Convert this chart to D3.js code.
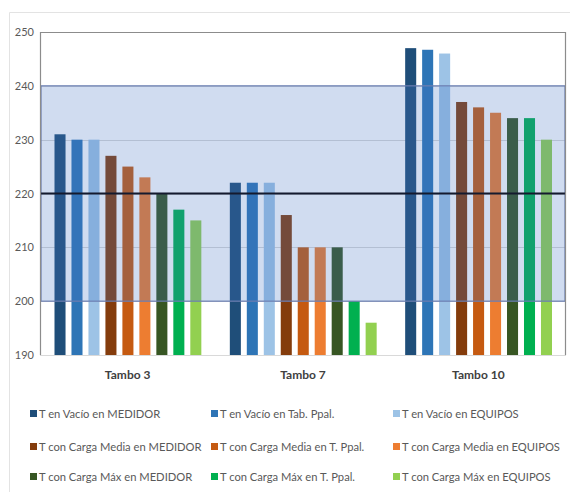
<!DOCTYPE html>
<html>
<head>
<meta charset="utf-8">
<script src="https://cdn.jsdelivr.net/npm/d3@7"></script>
<style>
  html, body { margin: 0; padding: 0; background: #fff; }
  svg { display: block; font-family: "Lato", "Open Sans", sans-serif; }
</style>
</head>
<body>
<svg id="chart" width="570" height="492"></svg>
<script>
// Voltage readings per site (Tambo) and measuring condition
const categories = ["Tambo 3", "Tambo 7", "Tambo 10"];
const seriesNames = [
  "T en Vacío en MEDIDOR",
  "T en Vacío en Tab. Ppal.",
  "T en Vacío en EQUIPOS",
  "T con Carga Media en MEDIDOR",
  "T con Carga Media en T. Ppal.",
  "T con Carga Media en EQUIPOS",
  "T con Carga Máx en MEDIDOR",
  "T con Carga Máx en T. Ppal.",
  "T con Carga Máx en EQUIPOS"
];
const vacioMedidor    = [231, 222, 247];
const vacioTabPpal    = [230, 222, 246.7];
const vacioEquipos    = [230, 222, 246];
const mediaMedidor    = [227, 216, 237];
const mediaTPpal      = [225, 210, 236];
const mediaEquipos    = [223, 210, 235];
const maxMedidor      = [220, 210, 234];
const maxTPpal        = [217, 200, 234];
const maxEquipos      = [215, 196, 230];
const seriesColors = ["#1f4e79", "#2e75b6", "#9dc3e6", "#843c0c", "#c55a11", "#ed7d31", "#375623", "#00b050", "#92d050"];
const yTicks = [190, 200, 210, 220, 230, 240, 250];
const bandLow = 200, bandHigh = 240, nominal = 220;

const seriesValues = [vacioMedidor, vacioTabPpal, vacioEquipos, mediaMedidor, mediaTPpal,
                      mediaEquipos, maxMedidor, maxTPpal, maxEquipos];

const svg = d3.select("#chart");
const plotLeft = 40, plotRight = 566, plotTop = 32, plotBottom = 355;

// outer frame
svg.append("path").attr("d", "M9.5,492 V12.5 H570").attr("fill", "none")
  .attr("stroke", "#e3e3e3").attr("stroke-width", 1);

const x0 = d3.scaleBand().domain(categories).range([plotLeft, plotRight]).padding(0);
const x1 = d3.scaleBand().domain(d3.range(seriesNames.length))
  .range([14.5, x0.bandwidth() - 14]).paddingInner(0.35).paddingOuter(0);
const y = d3.scaleLinear().domain([190, 250]).range([plotBottom, plotTop]);

// gridlines
svg.append("g").selectAll("line").data(yTicks).join("line")
  .attr("x1", plotLeft).attr("x2", plotRight)
  .attr("y1", d => Math.round(y(d)) + 0.5).attr("y2", d => Math.round(y(d)) + 0.5)
  .attr("stroke", "#d9d9d9").attr("stroke-width", 1);

// bars
const groups = svg.append("g").selectAll("g").data(categories).join("g")
  .attr("transform", c => `translate(${x0(c)},0)`);
groups.selectAll("rect")
  .data((c, ci) => seriesValues.map((vals, si) => ({ si, v: vals[ci] })))
  .join("rect")
  .attr("x", d => x1(d.si))
  .attr("width", x1.bandwidth())
  .attr("y", d => y(d.v))
  .attr("height", d => y(190) - y(d.v))
  .attr("fill", d => seriesColors[d.si]);

// tolerance band drawn over the bars
svg.append("rect")
  .attr("x", plotLeft + 1).attr("width", plotRight - plotLeft - 2)
  .attr("y", y(bandHigh)).attr("height", y(bandLow) - y(bandHigh))
  .attr("fill", "rgba(68,114,196,0.25)")
  .attr("stroke", "#6c7fb2").attr("stroke-width", 1.2);

// nominal voltage line
svg.append("line")
  .attr("x1", plotLeft).attr("x2", plotRight)
  .attr("y1", y(nominal)).attr("y2", y(nominal))
  .attr("stroke", "#141a2e").attr("stroke-width", 2);

// plot frame
svg.append("path")
  .attr("d", `M${plotLeft + 0.5},${plotBottom} V${plotTop + 0.5} H${plotRight - 0.5} V${plotBottom}`)
  .attr("fill", "none").attr("stroke", "#8c8c8c").attr("stroke-width", 1.2);

// y axis labels
const yAxis = svg.append("g").attr("transform", `translate(${plotLeft - 6},0)`)
  .call(d3.axisLeft(y).tickValues(yTicks).tickSize(0).tickPadding(0).tickFormat(d3.format("d")));
yAxis.select(".domain").remove();
yAxis.selectAll("text").attr("fill", "#595959").attr("font-size", "11px")
  .attr("font-family", "Lato, sans-serif");

// category labels
const xAxis = svg.append("g").attr("transform", `translate(0,${plotBottom})`)
  .call(d3.axisBottom(x0).tickSize(0).tickPadding(15));
xAxis.select(".domain").remove();
xAxis.selectAll("text").attr("fill", "#404040").attr("font-size", "12px")
  .attr("font-weight", "bold").attr("font-family", "Lato, sans-serif");

// legend: three columns, three rows
const legendCols = [30, 211, 393];
const legendRows = [414, 447, 477];
const legend = svg.append("g").selectAll("g").data(seriesNames).join("g")
  .attr("transform", (d, i) => `translate(${legendCols[i % 3]},${legendRows[Math.floor(i / 3)]})`);
legend.append("rect").attr("x", 0).attr("y", -4).attr("width", 7).attr("height", 7)
  .attr("fill", (d, i) => seriesColors[i]);
legend.append("text").attr("x", 9).attr("y", 0).attr("dy", "0.35em")
  .attr("fill", "#595959").attr("font-size", "11.2px").text(d => d);
</script>
</body>
</html>
